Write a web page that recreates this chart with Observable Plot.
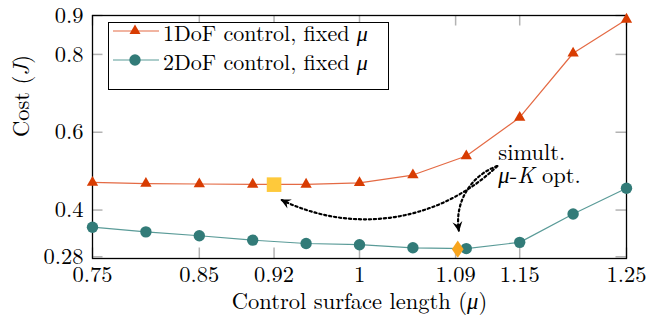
<!DOCTYPE html>
<html><head><meta charset="utf-8">
<script src="https://cdn.jsdelivr.net/npm/d3@7"></script>
<script src="https://cdn.jsdelivr.net/npm/@observablehq/plot@0.6"></script>
<style>
body{margin:0;background:#fff;}
#chart{position:relative;width:665px;height:325px;font-family:'Latin Modern Roman','Liberation Serif',serif;}
#legend{position:absolute;left:108px;top:22px;width:281px;height:68px;box-sizing:border-box;border:1.3px solid #000;background:#fff;font-size:22px;}
.row{position:absolute;left:0;height:28px;width:100%;}
.row svg{position:absolute;left:3px;top:0;}
.row span{position:absolute;left:54px;top:1px;white-space:nowrap;line-height:24px;}
</style></head><body><div id="chart"></div>
<script>
// ---- data ----
const mu = [0.75, 0.8, 0.85, 0.9, 0.95, 1.0, 1.05, 1.1, 1.15, 1.2, 1.25];
const cost1DoF = [0.471, 0.468, 0.467, 0.466, 0.466, 0.470, 0.490, 0.539, 0.638, 0.803, 0.890];
const cost2DoF = [0.356, 0.344, 0.334, 0.3226, 0.314, 0.311, 0.303, 0.301, 0.317, 0.390, 0.456];
const opt1DoF = {mu: 0.92, cost: 0.4653};
const opt2DoF = {mu: 1.092, cost: 0.2995};
const xTicks = [0.75, 0.85, 0.92, 1, 1.09, 1.15, 1.25];
const yTicks = [0.28, 0.4, 0.6, 0.8, 0.9];
const seriesNames = ["1DoF control, fixed $μ$", "2DoF control, fixed $μ$"];
const annotationLines = ["simult.", "$μ$-$K$ opt."];
const annotationX = [1.13, 1.13];
const annotationY = [0.5476, 0.4877];
const arrowStart = {x: 1.129, y: 0.513};
const arrowEnds = [{x: 0.927, y: 0.426, bend: 35}, {x: 1.093, y: 0.347, bend: -40}];
const xLabel = "Control surface length ($μ$)";
const yLabel = "Cost ($J$)";

const FONT = "'Latin Modern Roman','Liberation Serif',serif";
const FS = 22.5;
const red = "#d83c02", redLine = "#e46a44";
const teal = "#327b78", tealLine = "#5a9b98";
const sq = "#fec93b", dia = "#f8a51e";

const rows1 = mu.map((m, i) => ({mu: m, cost: cost1DoF[i]}));
const rows2 = mu.map((m, i) => ({mu: m, cost: cost2DoF[i]}));
const ann = annotationLines.map((t, i) => ({t, x: annotationX[i], y: annotationY[i]}));
const arrows = arrowEnds.map(e => ({x1: arrowStart.x, y1: arrowStart.y, x2: e.x, y2: e.y, bend: e.bend}));

const diamondSym = {draw(c){ c.moveTo(0,-8.7); c.lineTo(5.9,0); c.lineTo(0,8.7); c.lineTo(-5.9,0); c.closePath(); }};
const squareSym = {draw(c){ c.rect(-7.3,-7.3,14.6,14.6); }};
const headSym = {draw(c){ c.moveTo(1,0); c.lineTo(-9,-5); c.lineTo(-5.5,0); c.lineTo(-9,5); c.closePath(); }};

const W = 665, H = 325, mL = 92, mR = 39, mT = 15, mB = 67;
const iw = W - mL - mR, ih = H - mT - mB;
const tickLen = 10.5;

function build(heads) {
  return Plot.plot({
    width: W, height: H, marginLeft: mL, marginRight: mR, marginTop: mT, marginBottom: mB,
    style: {fontSize: FS + "px", background: "transparent", color: "#000"},
    x: {domain: [0.75, 1.25]},
    y: {domain: [0.2755, 0.9]},
    marks: [
      Plot.ruleX(xTicks, {x: d => d, insetTop: ih - tickLen, stroke: "#b3b3b3", strokeWidth: 1.5}),
      Plot.ruleX(xTicks, {x: d => d, insetBottom: ih - tickLen, stroke: "#b3b3b3", strokeWidth: 1.5}),
      Plot.ruleY(yTicks, {y: d => d, insetRight: iw - tickLen, stroke: "#b3b3b3", strokeWidth: 1.5}),
      Plot.ruleY(yTicks, {y: d => d, insetLeft: iw - tickLen, stroke: "#b3b3b3", strokeWidth: 1.5}),
      Plot.frame({stroke: "#000", strokeWidth: 1.3}),
      Plot.axisX({ticks: xTicks, tickSize: 0, tickPadding: 8, tickFormat: d => String(d), label: null, fontSize: FS}),
      Plot.axisY({ticks: yTicks, tickSize: 0, tickPadding: 9, tickFormat: d => String(d), label: null, fontSize: FS}),
      Plot.text([xLabel], {frameAnchor: "bottom", dy: 50, fontSize: FS}),
      Plot.text([yLabel], {frameAnchor: "left", dx: -71, rotate: -90, fontSize: FS}),
      Plot.line(rows1, {x: "mu", y: "cost", stroke: redLine, strokeWidth: 1.2}),
      Plot.line(rows2, {x: "mu", y: "cost", stroke: tealLine, strokeWidth: 1.2}),
      Plot.dot(rows1, {x: "mu", y: "cost", symbol: "triangle", r: 4.2, fill: red, stroke: null}),
      Plot.dot(rows2, {x: "mu", y: "cost", r: 5.7, fill: teal, stroke: null}),
      Plot.dot([opt1DoF], {x: "mu", y: "cost", symbol: squareSym, fill: sq, stroke: null}),
      Plot.dot([opt2DoF], {x: "mu", y: "cost", symbol: diamondSym, fill: dia, stroke: null}),
      ...arrows.map(a => Plot.arrow([a], {x1: "x1", y1: "y1", x2: "x2", y2: "y2", bend: a.bend, headLength: 0, stroke: "#000", strokeWidth: 2.2, strokeDasharray: "2.2,2.8"})),
      heads ? Plot.dot(heads, {x: "x", y: "y", symbol: headSym, rotate: "rot", fill: "#000", stroke: null}) : null,
      Plot.text(ann, {x: "x", y: "y", text: "t", textAnchor: "start", fontSize: FS})
    ]
  });
}

const pre = build(null);
const sx = pre.scale("x"), sy = pre.scale("y");
const heads = arrows.map(a => {
  const px1 = sx.apply(a.x1), py1 = sy.apply(a.y1), px2 = sx.apply(a.x2), py2 = sy.apply(a.y2);
  const chord = Math.atan2(py2 - py1, px2 - px1) * 180 / Math.PI;
  return {x: a.x2, y: a.y2, rot: chord + a.bend};
});
const fig = build(heads);
fig.setAttribute("font-family", FONT);
fig.style.fontFamily = FONT;

function richify(node) {
  d3.select(node).selectAll("text").each(function() {
    this.setAttribute("font-family", FONT);
    this.style.fontFamily = FONT;
    const s = this.textContent;
    if (!s.includes("$")) return;
    const el = d3.select(this);
    el.selectAll("*").remove();
    el.text(null);
    s.split("$").forEach((part, i) => {
      if (!part) return;
      const t = el.append("tspan").text(part);
      if (i % 2) t.attr("font-style", "italic");
    });
  });
}
richify(fig);

const chart = document.getElementById("chart");
chart.appendChild(fig);

// legend
const legend = document.createElement("div");
legend.id = "legend";
legend.style.fontFamily = FONT;
const markers = [
  `<polygon points="23,5.5 28.5,15 17.5,15" fill="${red}"/>`,
  `<circle cx="23" cy="12" r="5.7" fill="${teal}"/>`
];
const lineCols = [redLine, tealLine];
const rowTops = [8, 37];
seriesNames.forEach((name, i) => {
  const row = document.createElement("div");
  row.className = "row";
  row.style.top = (rowTops[i] - 12) + "px";
  const html = name.split("$").map((p, k) => k % 2 ? `<i>${p}</i>` : p).join("");
  row.innerHTML = `<svg width="50" height="24"><line x1="1" y1="12" x2="47" y2="12" stroke="${lineCols[i]}" stroke-width="1.2"/>${markers[i]}</svg><span>${html}</span>`;
  legend.appendChild(row);
});
chart.appendChild(legend);
</script></body></html>
